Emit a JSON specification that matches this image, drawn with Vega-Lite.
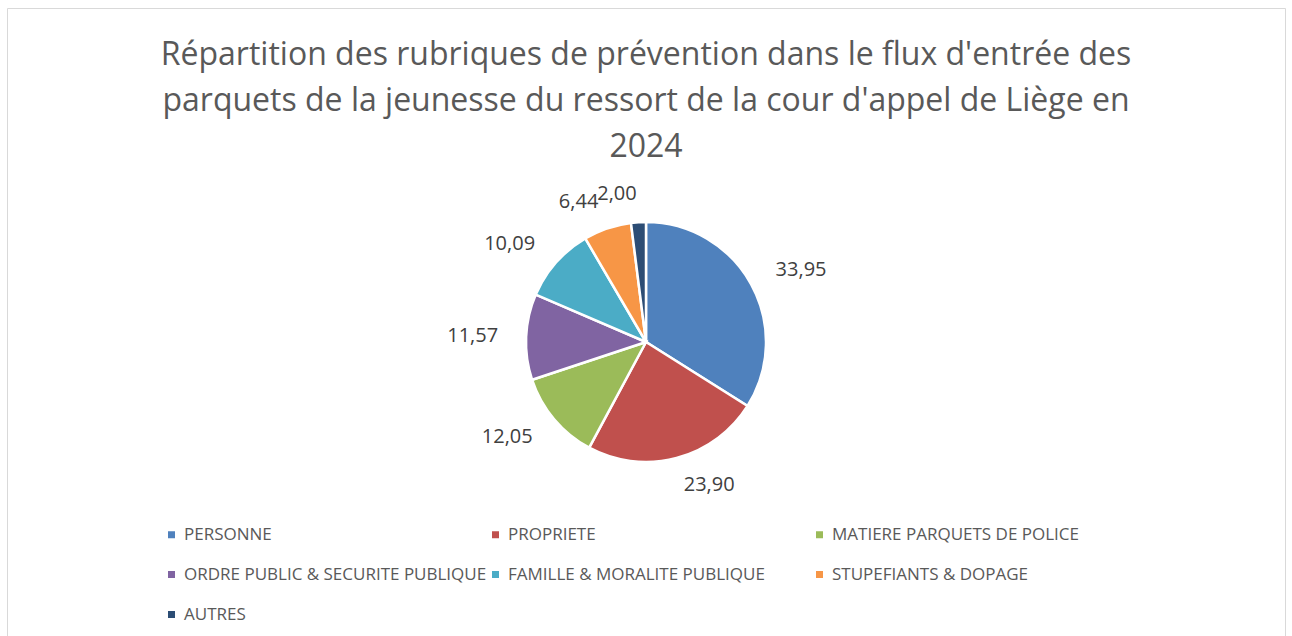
{
  "$schema": "https://vega.github.io/schema/vega-lite/v6.json",
  "autosize": "none",
  "width": 1278,
  "height": 668,
  "padding": {"left": 7, "top": 8, "right": 7, "bottom": 0},
  "background": "white",
  "view": {"stroke": "#d9d9d9", "strokeWidth": 1},
  "title": {
    "text": ["Répartition des rubriques de prévention dans le flux d'entrée des", "parquets de la jeunesse du ressort de la cour d'appel de Liège en", "2024"],
    "font": "Open Sans",
    "fontSize": 32,
    "fontWeight": "normal",
    "color": "#595959",
    "lineHeight": 46,
    "anchor": "middle",
    "frame": "group",
    "offset": -156
  },
  "data": {
    "values": [
      {"cat": "PERSONNE", "v": 33.95, "rang": 1},
      {"cat": "PROPRIETE", "v": 23.90, "rang": 2},
      {"cat": "MATIERE PARQUETS DE POLICE", "v": 12.05, "rang": 3},
      {"cat": "ORDRE PUBLIC & SECURITE PUBLIQUE", "v": 11.57, "rang": 4},
      {"cat": "FAMILLE & MORALITE PUBLIQUE", "v": 10.09, "rang": 5},
      {"cat": "STUPEFIANTS & DOPAGE", "v": 6.44, "rang": 6},
      {"cat": "AUTRES", "v": 2.00, "rang": 7}
    ]
  },
  "encoding": {
    "theta": {"field": "v", "type": "quantitative", "stack": true},
    "order": {"field": "rang", "type": "quantitative"}
  },
  "layer": [
    {
      "mark": {"type": "arc", "outerRadius": 120, "stroke": "white", "strokeWidth": 2.5},
      "encoding": {
        "color": {
          "field": "cat",
          "type": "nominal",
          "sort": null,
          "scale": {
            "domain": ["PERSONNE", "PROPRIETE", "MATIERE PARQUETS DE POLICE", "ORDRE PUBLIC & SECURITE PUBLIQUE", "FAMILLE & MORALITE PUBLIQUE", "STUPEFIANTS & DOPAGE", "AUTRES"],
            "range": ["#4F81BD", "#C0504D", "#9BBB59", "#8064A2", "#4BACC6", "#F79646", "#2C4D75"]
          },
          "legend": {
            "title": null,
            "orient": "none",
            "direction": "horizontal",
            "legendX": 156,
            "legendY": 518,
            "columns": 3,
            "gridAlign": "all",
            "columnPadding": 0,
            "rowPadding": 22,
            "padding": 0,
            "symbolType": "square",
            "symbolSize": 49,
            "symbolStrokeWidth": 0,
            "labelFont": "Open Sans",
            "labelFontSize": 17,
            "labelColor": "#595959",
            "labelOffset": 4,
            "labelLimit": 400
          }
        }
      }
    },
    {
      "mark": {
        "type": "text",
        "radius": 148,
        "font": "Open Sans",
        "fontSize": 20,
        "baseline": "middle",
        "align": {"expr": "(datum.v_start + datum.v_end) < 100 ? 'left' : 'right'"}
      },
      "encoding": {
        "detail": {"field": "cat", "type": "nominal"},
        "color": {"value": "#404040"},
        "text": {"field": "v", "type": "quantitative", "format": ".2f"}
      }
    }
  ],
  "config": {
    "locale": {"number": {"decimal": ",", "thousands": " ", "grouping": [3], "currency": ["", " €"]}}
  }
}
